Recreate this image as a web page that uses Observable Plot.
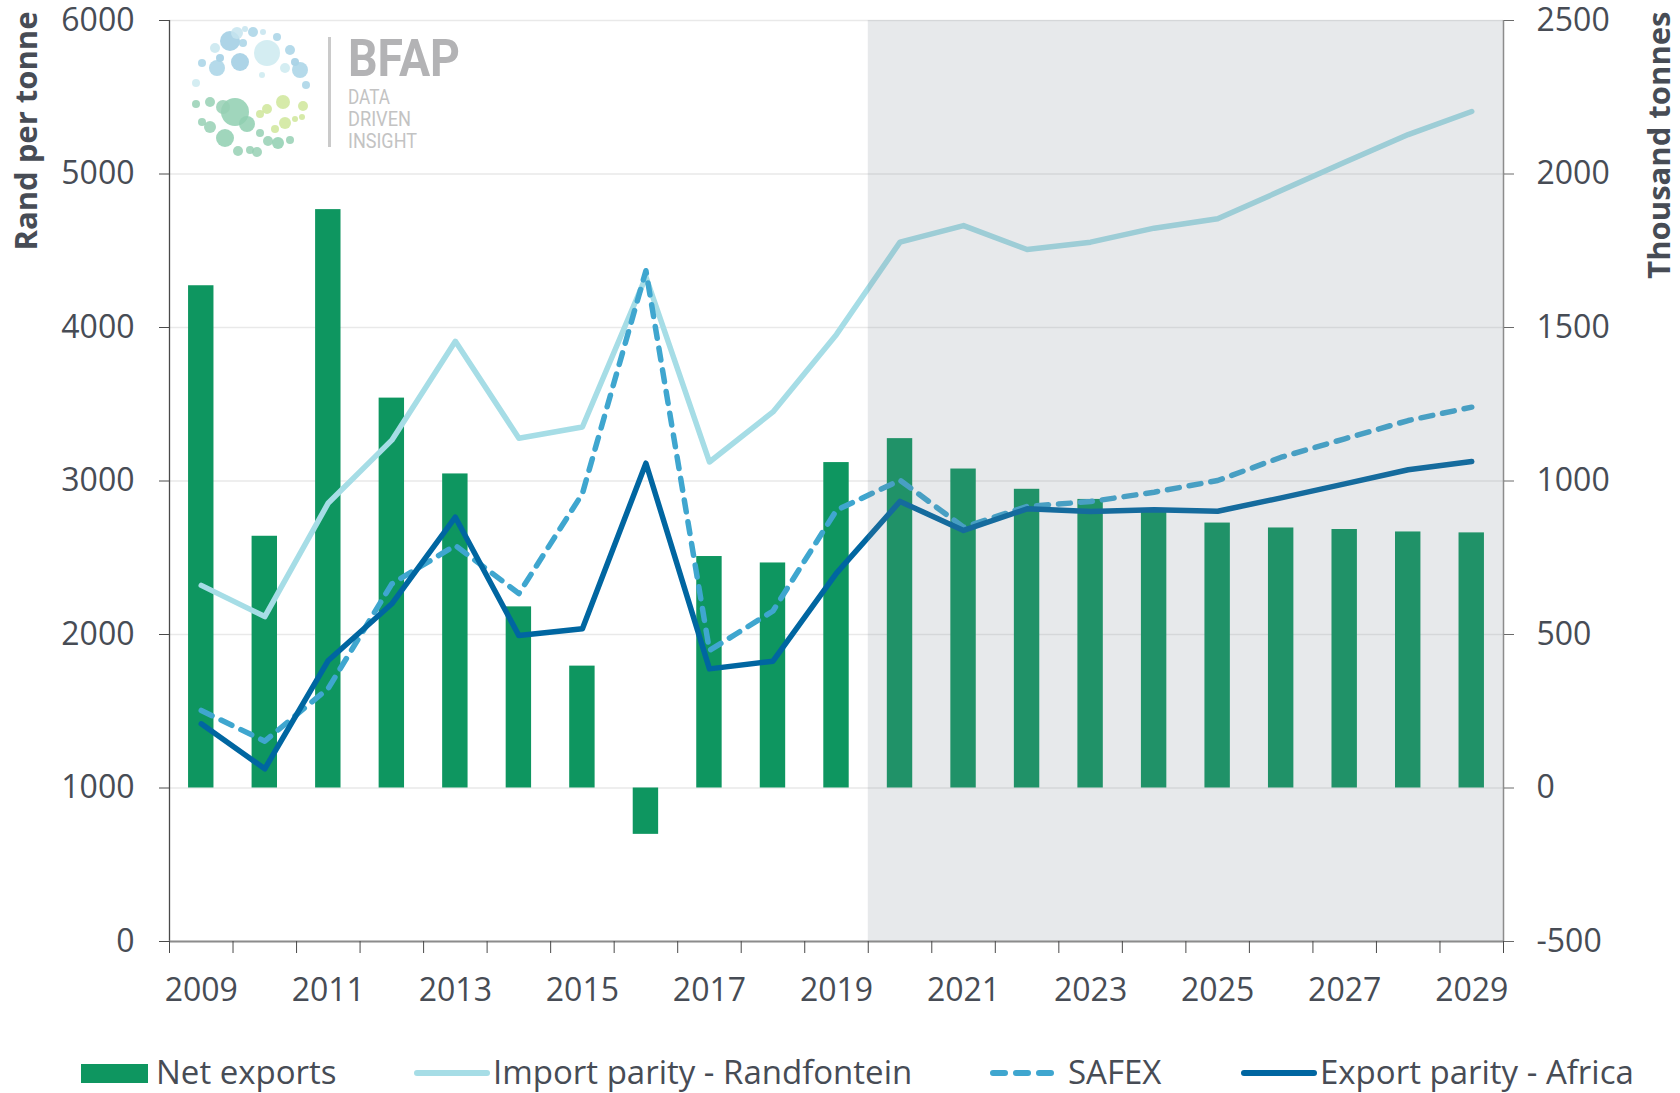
<!DOCTYPE html>
<html>
<head>
<meta charset="utf-8">
<script src="https://cdn.jsdelivr.net/npm/d3@7"></script>
<script src="https://cdn.jsdelivr.net/npm/@observablehq/plot@0.6"></script>
<style>
  body { margin: 0; background: #fff; font-family: "Open Sans", sans-serif; }
  #wrap { position: relative; width: 1680px; height: 1093px; overflow: hidden; }
  #legend { position: relative; width: 1680px; height: 63px; color: #474c55; font-size: 33px; }
  #legend .sw { position: absolute; }
  #legend .lb { position: absolute; top: 19px; line-height: 46px; white-space: nowrap; }
  #logo { position: absolute; left: 0; top: 0; pointer-events: none; }
</style>
</head>
<body>
<div id="wrap">
  <div id="chart"></div>
  <div id="legend">
    <div class="sw" style="left:81px;top:34px;width:67px;height:19px;background:#0e9660"></div>
    <div class="lb" style="left:156px">Net exports</div>
    <svg class="sw" style="left:414px;top:37px" width="76" height="12"><line x1="3" y1="6" x2="73" y2="6" stroke="#a6dde6" stroke-width="6" stroke-linecap="round"/></svg>
    <div class="lb" style="left:493px">Import parity - Randfontein</div>
    <svg class="sw" style="left:989px;top:37px" width="76" height="12"><line x1="4" y1="6" x2="72" y2="6" stroke="#3fa6cf" stroke-width="6" stroke-linecap="round" stroke-dasharray="12,11"/></svg>
    <div class="lb" style="left:1068px">SAFEX</div>
    <svg class="sw" style="left:1241px;top:37px" width="76" height="12"><line x1="3" y1="6" x2="73" y2="6" stroke="#0066a1" stroke-width="6" stroke-linecap="round"/></svg>
    <div class="lb" style="left:1320px">Export parity - Africa</div>
  </div>
  <svg id="logo" width="480" height="170"></svg>
</div>
<script>
// ---- data ----
const years = [2009, 2010, 2011, 2012, 2013, 2014, 2015, 2016, 2017, 2018, 2019,
               2020, 2021, 2022, 2023, 2024, 2025, 2026, 2027, 2028, 2029];
// Net exports, thousand tonnes (right axis)
const netExports = [1636, 820, 1884, 1270, 1023, 590, 397, -151, 754, 733, 1060,
                    1138, 1039, 973, 940, 899, 863, 847, 842, 834, 831];
// Prices, Rand per tonne (left axis)
const importParity = [2320, 2117, 2857, 3266, 3910, 3279, 3352, 4330, 3124, 3450, 3955,
                      4556, 4664, 4508, 4556, 4647, 4708, 4892, 5077, 5257, 5407];
const safex = [1505, 1305, 1650, 2330, 2580, 2267, 2918, 4370, 1896, 2153, 2810,
               3005, 2699, 2834, 2866, 2927, 3003, 3155, 3275, 3394, 3481];
const exportParity = [1418, 1125, 1831, 2200, 2764, 1993, 2037, 3116, 1776, 1826, 2400,
                      2867, 2678, 2819, 2801, 2812, 2803, 2890, 2981, 3073, 3127];
const leftTicks = [0, 1000, 2000, 3000, 4000, 5000, 6000];
const labelYears = [2009, 2011, 2013, 2015, 2017, 2019, 2021, 2023, 2025, 2027, 2029];
const forecastYears = [2020, 2029];

// right axis (thousand tonnes) expressed in left-axis units: -500..2500 <-> 0..6000
const toLeft = v => 1000 + 2 * v;
const fromLeft = v => (v - 1000) / 2;

const rows = years.map((year, i) => ({
  year, net: netExports[i], imp: importParity[i], safex: safex[i], exp: exportParity[i]
}));
const boundaries = years.map(y => y - 0.5).concat([years[years.length - 1] + 0.5]);
const x0 = years[0] - 0.5, x1 = years[years.length - 1] + 0.5;
const textColor = "#474c55";

const chart = Plot.plot({
  width: 1680,
  height: 1030,
  marginLeft: 169,
  marginRight: 177,
  marginTop: 20,
  marginBottom: 89,
  x: { type: "linear", domain: [x0, x1] },
  y: { domain: [0, 6000] },
  style: { fontFamily: "'Open Sans', sans-serif", color: textColor, background: "white", overflow: "visible" },
  marks: [
    Plot.gridY(leftTicks, { stroke: "#e9e9e9", strokeOpacity: 1, strokeWidth: 1.5 }),
    Plot.rectY(rows, {
      x1: d => d.year - 0.2, x2: d => d.year + 0.2,
      y1: toLeft(0), y2: d => toLeft(d.net),
      fill: "#0e9660"
    }),
    Plot.line(rows, { x: "year", y: "imp", stroke: "#a6dde6", strokeWidth: 5.5, strokeLinejoin: "round", strokeLinecap: "round" }),
    Plot.line(rows, { x: "year", y: "safex", stroke: "#3fa6cf", strokeWidth: 5.5, strokeLinejoin: "round", strokeLinecap: "round", strokeDasharray: "12,10" }),
    Plot.line(rows, { x: "year", y: "exp", stroke: "#0066a1", strokeWidth: 5.5, strokeLinejoin: "round", strokeLinecap: "round" }),
    // projection period shading (drawn over the data, semi-transparent)
    Plot.rect([forecastYears], {
      x1: d => d[0] - 0.5, x2: d => d[1] + 0.5, y1: leftTicks[0], y2: leftTicks[leftTicks.length - 1],
      fill: "rgb(118,128,142)", fillOpacity: 0.175
    }),
    Plot.ruleX([x0], { stroke: "#4a4a4a", strokeWidth: 1.3 }),
    Plot.ruleX([x1], { stroke: "#8c8c8c", strokeWidth: 1.5 }),
    Plot.ruleY([0], { stroke: "#8c8c8c", strokeWidth: 2 }),
    Plot.axisY(leftTicks, { anchor: "left", tickSize: 10, tickPadding: 25, fontSize: 32, label: null, stroke: "#4a4a4a", tickFormat: d => String(d) }),
    Plot.axisY(leftTicks, { anchor: "right", tickSize: 10, tickPadding: 23, fontSize: 32, label: null, stroke: "#6a6a6a", tickFormat: d => String(fromLeft(d)) }),
    Plot.axisX(boundaries, { anchor: "bottom", tickSize: 12, tickFormat: () => "", label: null, stroke: "#4a4a4a" }),
    Plot.axisX(labelYears, { anchor: "bottom", tickSize: 0, tickPadding: 37, fontSize: 32, label: null, tickFormat: d => String(d) }),
    Plot.text(["Rand per tonne"], {
      frameAnchor: "top-left", dx: -142, dy: -9, rotate: -90, textAnchor: "end", lineAnchor: "middle",
      fontSize: 31, fontWeight: "bold", fill: textColor
    }),
    Plot.text(["Thousand tonnes"], {
      frameAnchor: "top-right", dx: 157, dy: -9, rotate: -90, textAnchor: "end", lineAnchor: "middle",
      fontSize: 31, fontWeight: "bold", fill: textColor
    })
  ]
});
document.getElementById("chart").appendChild(chart);

// ---- BFAP logo (decoration) ----
const bubbles = [
  [230,41,10,"#9fcde3"],[253,32,5,"#a8d4e6"],[237,33,6,"#c6e4ee"],[245,29,3,"#c6e4ee"],[263,32,3,"#c6e4ee"],
  [215,48,5,"#c8e6ee"],[267,53,13,"#cdeaf0"],[240,62,9,"#9fcde3"],[220,58,4,"#9fcde3"],[217,68,8,"#a8d4e6"],
  [202,63,4,"#a8d4e6"],[243,43,4,"#a8d4e6"],[277,37,4,"#a8d4e6"],[290,50,5,"#a8d4e6"],[295,62,4,"#9fcde3"],
  [300,70,8,"#a8d4e6"],[285,68,5,"#cdeaf0"],[306,85,4,"#a8d4e6"],[196,83,4,"#cdeaf0"],[262,75,3,"#cdeaf0"],
  [235,112,14,"#8fcfb0"],[223,107,7,"#96d0b4"],[210,102,5,"#96d0b4"],[196,104,4,"#96d0b4"],[202,122,4,"#96d0b4"],
  [210,127,6,"#96d0b4"],[225,138,9,"#8fcfb0"],[247,124,8,"#8fcfb0"],[238,151,5,"#96d0b4"],[250,150,4,"#96d0b4"],
  [257,152,5,"#96d0b4"],[260,133,4,"#96d0b4"],[268,141,5,"#96d0b4"],[278,143,6,"#8fcfb0"],[290,140,4,"#96d0b4"],
  [283,102,7,"#cfe69a"],[267,109,5,"#cfe69a"],[260,114,4,"#cfe69a"],[285,123,6,"#cfe69a"],[275,129,4,"#cfe69a"],
  [295,119,3,"#cfe69a"],[303,106,5,"#cfe69a"],[302,117,3,"#cfe69a"]
];
const logo = d3.select("#logo");
logo.selectAll("circle").data(bubbles).join("circle")
  .attr("cx", d => d[0]).attr("cy", d => d[1]).attr("r", d => d[2])
  .attr("fill", d => d[3]).attr("fill-opacity", 0.85);
logo.append("rect").attr("x", 328).attr("y", 37).attr("width", 3).attr("height", 110).attr("fill", "#cacaca");
logo.append("text").attr("x", 348).attr("y", 76).attr("font-family", "Roboto, sans-serif").attr("font-weight", 700)
  .attr("font-size", 52).attr("fill", "#b3b3b5").attr("textLength", 112).attr("lengthAdjust", "spacingAndGlyphs").text("BFAP");
[["DATA", 104, 42], ["DRIVEN", 126, 63], ["INSIGHT", 148, 69]].forEach(([t, y, w]) => {
  logo.append("text").attr("x", 348).attr("y", y).attr("font-family", "Roboto, sans-serif").attr("font-size", 21)
    .attr("fill", "#c3c3c3").attr("textLength", w).attr("lengthAdjust", "spacingAndGlyphs").text(t);
});
</script>
</body>
</html>
